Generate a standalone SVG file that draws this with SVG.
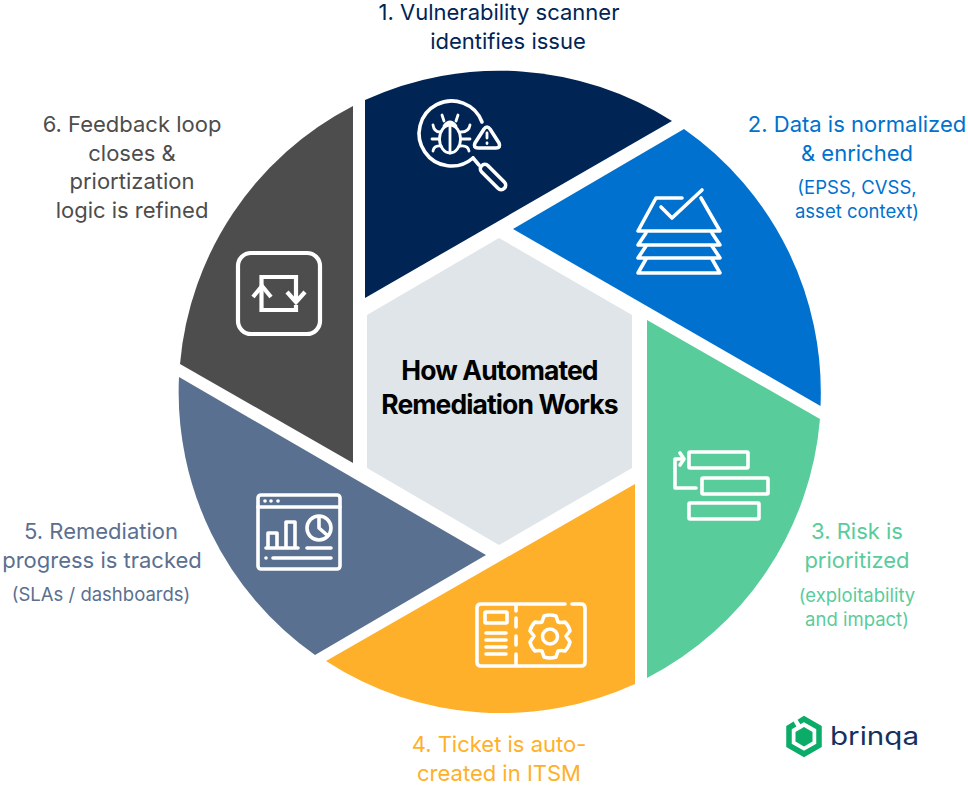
<svg xmlns="http://www.w3.org/2000/svg" width="968" height="788" viewBox="0 0 968 788">
<style>
text{font-family:"Inter","Noto Sans","Liberation Sans",sans-serif;text-anchor:middle}
.h{font-size:22px}
.s{font-size:18.500px}
.i{fill:none;stroke:#fff;stroke-width:3.600;stroke-linecap:round;stroke-linejoin:round}
.i2{fill:none;stroke:#fff;stroke-width:2.800;stroke-linecap:round;stroke-linejoin:round}
.t{font-size:26.500px;font-weight:700;letter-spacing:-.9px;fill:#000}
</style>
<rect width="968" height="788" fill="#fff"/>
<g id="center">
<path d="M499 238L632 315V468L499 545L367 468V315Z" fill="#dfe5e8"/>
<text class="t" x="499.500" y="380">How Automated</text>
<text class="t" x="499.500" y="414">Remediation Works</text>
</g>
<g id="step1">
<path d="M365 298V100A321.500 321.500 0 0 1 672 121Z" fill="#002554"/>
<g class="i">
<path d="M482 122A32.500 32.500 0 1 0 473 158"/>
<path d="M473 158L479 165"/>
<rect x="-16" y="-4.500" width="32" height="9" rx="4.500" transform="translate(493 177) rotate(45)"/>
<path d="M484 129Q487 125 490 129L499 143Q501 148 496 148H478Q473 148 475 143Z"/>
</g>
<g class="i2">
<path d="M487 133V138M487 143V143.500"/>
<ellipse cx="450" cy="139" rx="10.500" ry="14"/>
<path d="M450 125V153M444 126Q450 118 456 126M444 121L442 115M456 121L458 115"/>
<path d="M433 125Q434 132 440 132M470 125Q469 132 461 132M432 139H439M461 139H470M433 151Q434 145 441 146M469 151Q468 145 460 146"/>
</g>
<text class="h" x="499" y="20" fill="#002554">1. Vulnerability scanner</text>
<text class="h" x="508" y="49" fill="#002554">identifies issue</text>
</g>
<g id="step2">
<path d="M513 229L684 129A321 321 0 0 1 820.500 406Z" fill="#0071ce"/>
<g class="i">
<path d="M682 198H656L638 231H720L701 198"/>
<path d="M661 207L672 218L702 190"/>
<path d="M646 233L638 245H720L712 233"/>
<path d="M646 246L638 258H720L712 246"/>
<path d="M646 259L638 273H720L712 259"/>
</g>
<text class="h" x="857" y="132" fill="#0071ce">2. Data is normalized</text>
<text class="h" x="857" y="161" fill="#0071ce">&amp; enriched</text>
<text class="s" x="857" y="194" fill="#0071ce">(EPSS, CVSS,</text>
<text class="s" x="857" y="218" fill="#0071ce">asset context)</text>
</g>
<g id="step3">
<path d="M647 320L820 419A321.500 321.500 0 0 1 647 678Z" fill="#59cc9b"/>
<g class="i">
<rect x="689" y="452" width="59" height="16" rx="1"/>
<rect x="702" y="478" width="66" height="16" rx="1"/>
<rect x="689" y="503" width="70" height="16" rx="1"/>
<path d="M696 488H675V459H683M680 453L684 459L680 465"/>
</g>
<text class="h" x="857" y="539" fill="#59cc9b">3. Risk is</text>
<text class="h" x="857" y="568" fill="#59cc9b">prioritized</text>
<text class="s" x="857" y="602" fill="#59cc9b">(exploitability</text>
<text class="s" x="857" y="626" fill="#59cc9b">and impact)</text>
</g>
<g id="step4">
<path d="M635 484V684A321.500 321.500 0 0 1 326 661Z" fill="#ffb02a"/>
<g class="i">
<path d="M565 604H481Q477 604 477 608V662Q477 666 481 666H581Q585 666 585 662V608Q585 604 581 604H572"/>
<path d="M516 606V611M516 618V627M516 636V645M516 654V664"/>
<rect x="485" y="612" width="22" height="11" rx="1"/>
<path d="M486 633H506M486 640H506M486 647H506M486 654H506"/>
<path d="M544 616Q550 614 556 616L558 622Q561 623 565 622Q569 626 570 631L566 636L570 642Q569 647 565 651Q561 650 558 651L556 657Q550 659 544 657L542 651Q539 650 535 651Q531 647 530 642L534 636L530 631Q531 626 535 622Q539 623 542 622Z"/>
<circle cx="550" cy="636.500" r="7.500"/>
</g>
<text class="h" x="499" y="752" fill="#ffb02a">4. Ticket is auto-</text>
<text class="h" x="499" y="781" fill="#ffb02a">created in ITSM</text>
</g>
<g id="step5">
<path d="M486 555L315 655A321.500 321.500 0 0 1 179 377Z" fill="#5a7090"/>
<g class="i">
<rect x="258" y="495" width="82" height="74" rx="3"/>
<path d="M258 507H340"/>
<path d="M268 548V533H277V548M286 548V522H295V548M266 548H298M307 548H331M273 558H331"/>
<circle cx="319" cy="528" r="12"/>
<path d="M319 517V528L327 535"/>
</g>
<g fill="#fff"><circle cx="265" cy="501" r="1.800"/><circle cx="271" cy="501" r="1.800"/><circle cx="278" cy="501" r="1.800"/><circle cx="266" cy="558" r="1.800"/></g>
<text class="h" x="101" y="539" fill="#5a7090">5. Remediation</text>
<text class="h" x="102" y="568" fill="#5a7090">progress is tracked</text>
<text class="s" x="101" y="601" fill="#5a7090">(SLAs / dashboards)</text>
</g>
<g id="step6">
<path d="M353 463L180 364A321.500 321.500 0 0 1 353 106Z" fill="#4d4d4d"/>
<g fill="none" stroke="#fff" stroke-width="4.200">
<rect x="238" y="253" width="82" height="81" rx="13"/>
<path d="M261.500 285V277H296V301M296 305V310H261.500V285"/>
<path d="M253 297L262 286L271 297M287 292L296 302L305 292"/>
</g>
<text class="h" x="132" y="132" fill="#4d4d4d">6. Feedback loop</text>
<text class="h" x="132" y="161" fill="#4d4d4d">closes &amp;</text>
<text class="h" x="132" y="189" fill="#4d4d4d">priortization</text>
<text class="h" x="132" y="218" fill="#4d4d4d">logic is refined</text>
</g>
<g id="logo">
<path d="M799 722L804 719L819 727.500V745.500L804 754L789 745.500V727.500L795 724" fill="none" stroke="#0bac67" stroke-width="5.500"/>
<path d="M804 727L812.500 732V741.500L804 746.500L795.500 741.500V732Z" fill="#0bac67"/>
<text x="874.500" y="745" font-size="25" fill="#15315f" font-family="Liberation Sans" textLength="89" lengthAdjust="spacingAndGlyphs">brinqa</text>
</g>
</svg>
